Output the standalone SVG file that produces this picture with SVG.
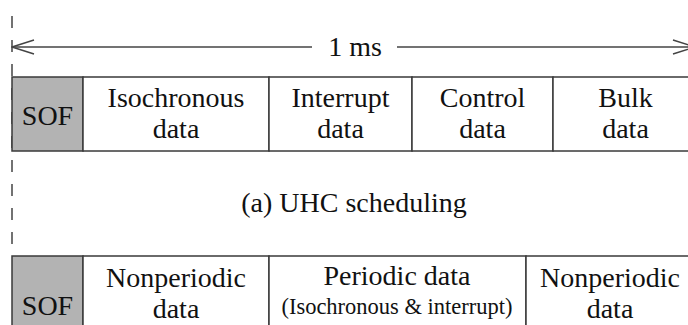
<svg xmlns="http://www.w3.org/2000/svg" width="688" height="325" viewBox="0 0 688 325">
<style>
.cell{fill:#fff;stroke:#3a3a3a;stroke-width:1.5}
.sof{fill:#b3b3b3;stroke:#3a3a3a;stroke-width:1.5}
text{font-family:'Liberation Serif','Times New Roman','DejaVu Serif',serif;font-size:28px;fill:#111;text-anchor:middle}
.s{font-size:22.5px}
.ln{stroke:#444;stroke-width:1.5;fill:none}
</style>
<defs>
<marker id="open" viewBox="0 0 24 16" refX="23" refY="8" markerWidth="24" markerHeight="16" markerUnits="userSpaceOnUse" orient="auto-start-reverse">
<path d="M1,1 L23,8 L1,15" fill="none" stroke="#444" stroke-width="1.5"/>
</marker>
</defs>
<g id="connectors">
<line class="ln" x1="12" y1="16" x2="12" y2="246" stroke-dasharray="12 12" stroke="#555"/>
<line class="ln" x1="12" y1="47" x2="312" y2="47" marker-start="url(#open)"/>
<line class="ln" x1="397" y1="47" x2="695" y2="47" marker-end="url(#open)"/>
</g>
<g>
<g id="label-1ms"><text x="355" y="56">1 ms</text></g>
<g id="row-a">
<g id="a-sof"><rect class="sof" x="12" y="77" width="71" height="74"/><text x="47.5" y="125">SOF</text></g>
<g id="a-iso"><rect class="cell" x="83" y="77" width="186" height="74"/><text x="176" y="107">Isochronous</text><text x="176" y="138">data</text></g>
<g id="a-int"><rect class="cell" x="269" y="77" width="143" height="74"/><text x="340.5" y="107">Interrupt</text><text x="340.5" y="138">data</text></g>
<g id="a-ctl"><rect class="cell" x="412" y="77" width="141" height="74"/><text x="482.5" y="107">Control</text><text x="482.5" y="138">data</text></g>
<g id="a-bulk"><rect class="cell" x="553" y="77" width="150" height="74"/><text x="625.5" y="107">Bulk</text><text x="625.5" y="138">data</text></g>
</g>
<g id="caption-a"><text x="354" y="212">(a) UHC scheduling</text></g>
<g id="row-b">
<g id="b-sof"><rect class="sof" x="12" y="256" width="71" height="80"/><text x="47.5" y="315">SOF</text></g>
<g id="b-np1"><rect class="cell" x="83" y="256" width="186" height="80"/><text x="176" y="287">Nonperiodic</text><text x="176" y="318">data</text></g>
<g id="b-per"><rect class="cell" x="269" y="256" width="257" height="80"/><text x="397" y="285">Periodic data</text><text class="s" x="397" y="314">(Isochronous &amp; interrupt)</text></g>
<g id="b-np2"><rect class="cell" x="526" y="256" width="180" height="80"/><text x="610" y="287">Nonperiodic</text><text x="610" y="318">data</text></g>
</g>
</g>
</svg>
